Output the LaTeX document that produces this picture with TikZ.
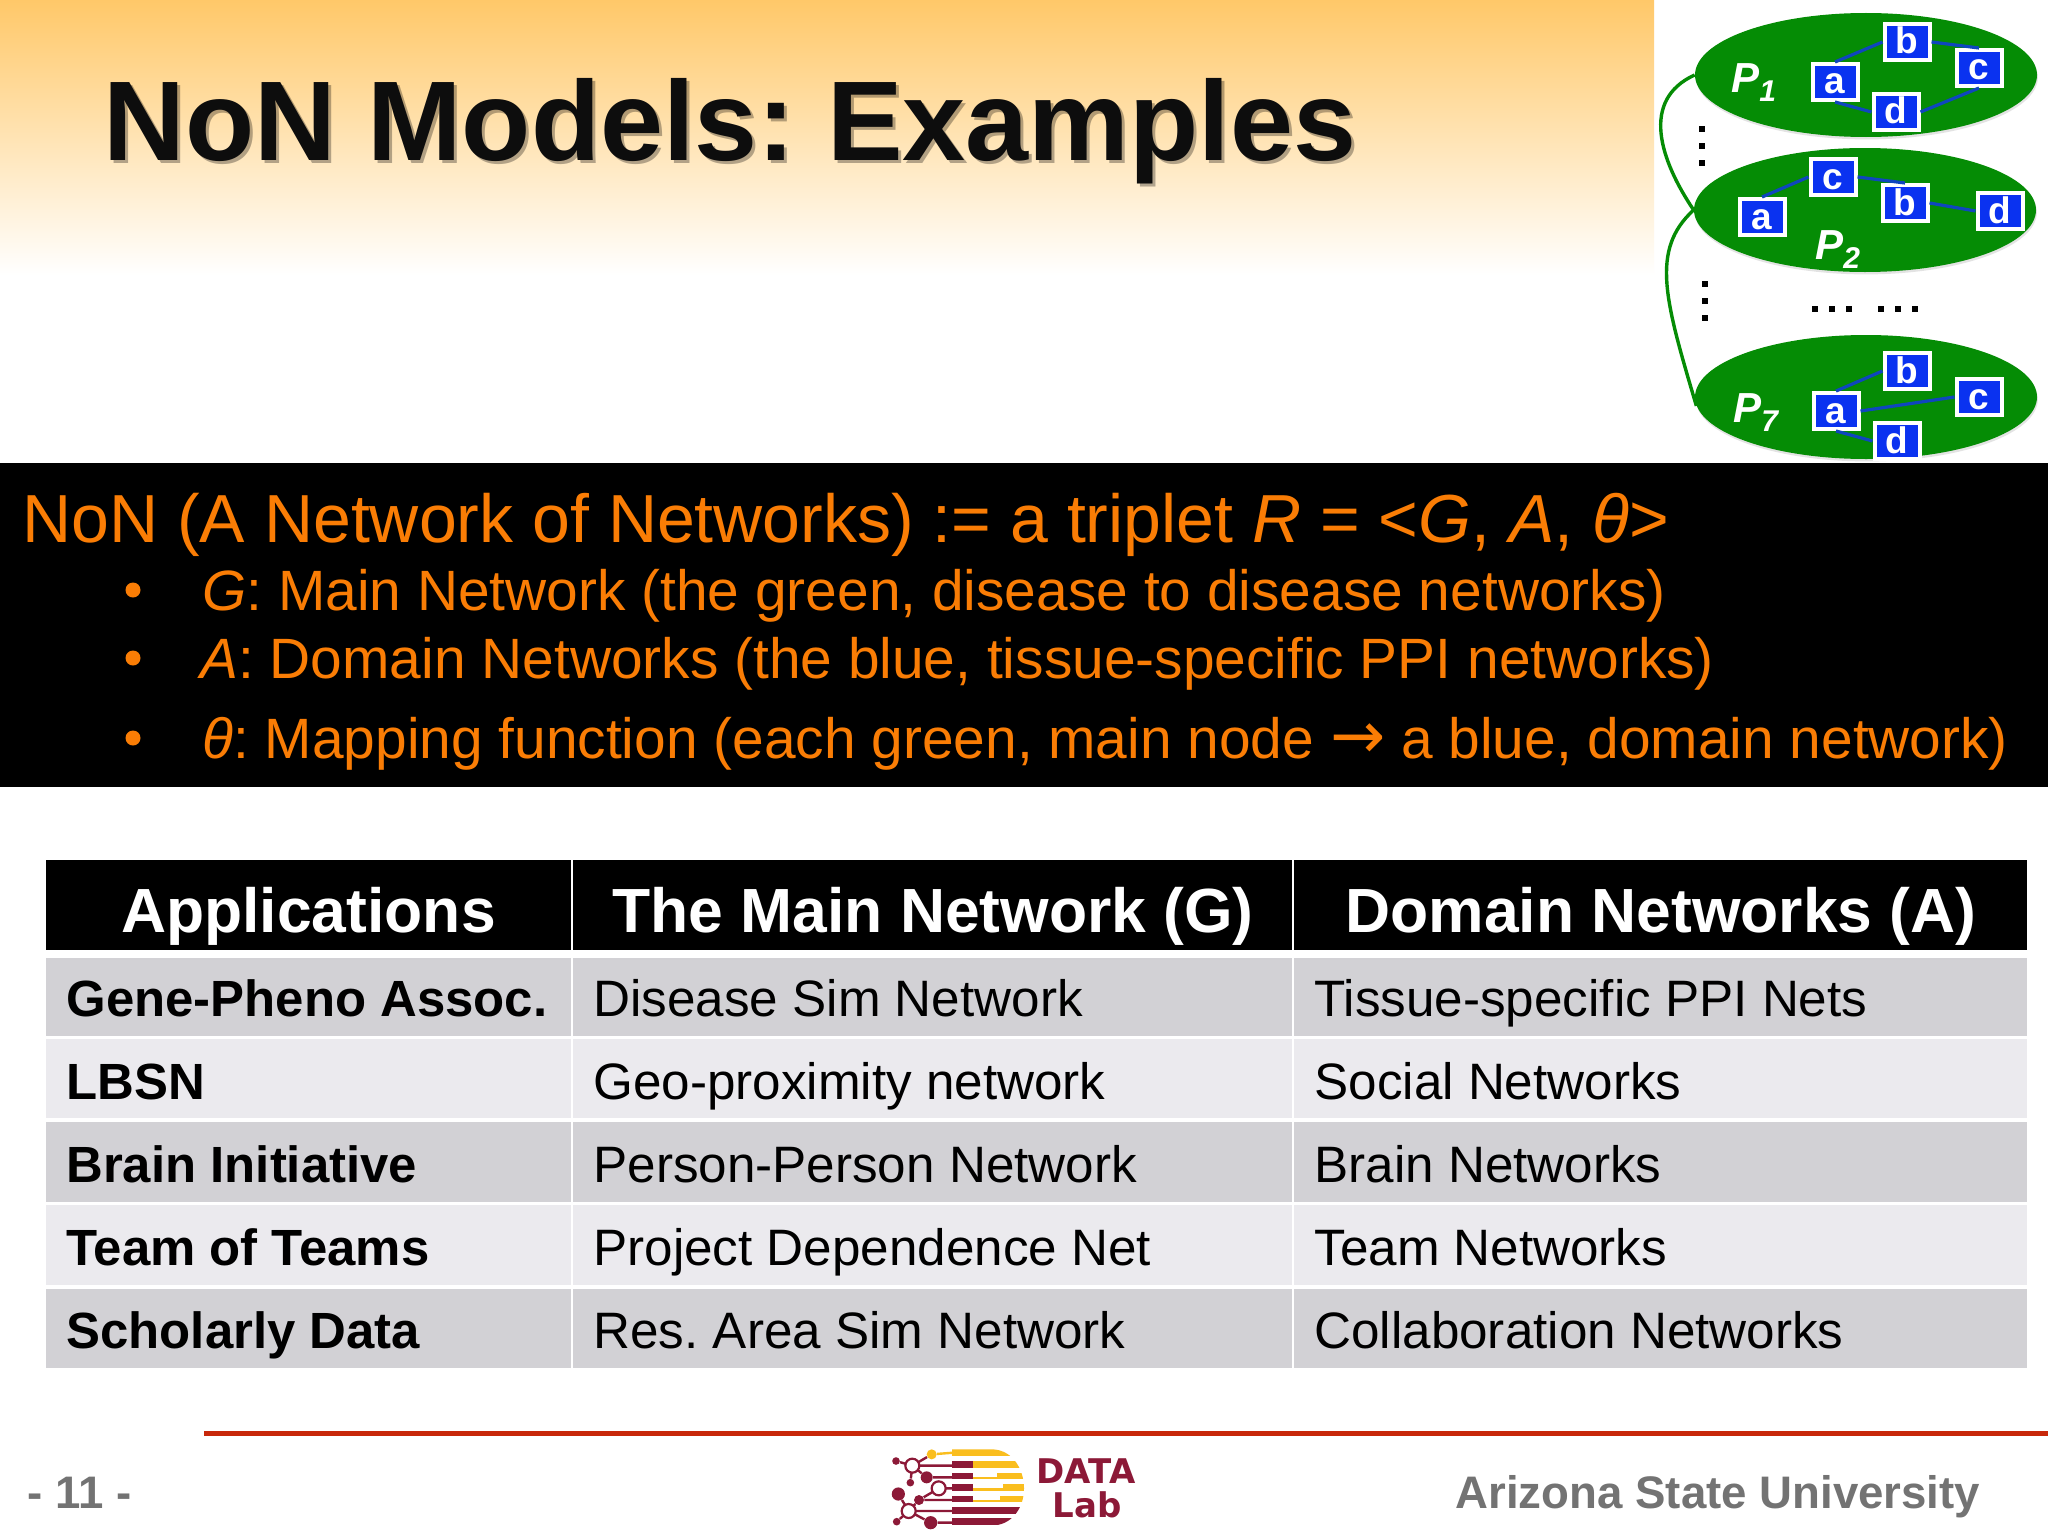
\documentclass[tikz,border=0pt]{standalone}
\usepackage{fontspec}
\setmainfont{Liberation Sans}
\newfontfamily\arrowfont{DejaVu Sans}
\usetikzlibrary{shapes.geometric,calc,shadows}
\frenchspacing
\definecolor{bandorange}{RGB}{255,200,105}
\definecolor{txtorange}{RGB}{250,125,5}
\definecolor{ellgreen}{RGB}{5,140,5}
\definecolor{boxblue}{RGB}{10,50,240}
\definecolor{linkblue}{RGB}{15,70,190}
\definecolor{rowdark}{RGB}{210,209,213}
\definecolor{rowlight}{RGB}{235,234,238}
\definecolor{footgray}{RGB}{115,115,115}
\definecolor{footred}{RGB}{200,40,10}
\definecolor{asumaroon}{RGB}{140,25,55}
\definecolor{asugold}{RGB}{250,190,30}
\tikzset{
  titletext/.style={anchor=base west,inner sep=0pt,font=\fontsize{56.65}{60}\selectfont\bfseries},
  bandhead/.style={anchor=base west,inner sep=0pt,text=txtorange,font=\fontsize{34}{40}\selectfont},
  bandline/.style={anchor=base west,inner sep=0pt,text=txtorange,font=\fontsize{28.43}{34}\selectfont},
  banddot/.style={circle,fill=txtorange,inner sep=0pt,minimum size=7.5pt},
  headtext/.style={anchor=base,inner sep=0pt,text=white,font=\fontsize{31.2}{36}\selectfont\bfseries},
  keytext/.style={anchor=base west,inner sep=0pt,font=\fontsize{25.45}{30}\selectfont\bfseries},
  celltext/.style={anchor=base west,inner sep=0pt,font=\fontsize{25.6}{30}\selectfont},
  ell/.style={ellipse,fill=ellgreen,inner sep=0pt,minimum width=171pt,minimum height=62pt,
    drop shadow={opacity=.22,shadow xshift=.4pt,shadow yshift=-1.2pt}},
  nbox/.style={draw=white,line width=2pt,fill=boxblue,text=white,minimum width=22.5pt,minimum height=18pt,inner sep=0pt,text height=12pt,text depth=0pt,font=\fontsize{18.5}{20}\selectfont\bfseries},
  plabel/.style={text=white,inner sep=0pt,anchor=base west,font=\fontsize{21}{24}\selectfont\bfseries\itshape},
  link/.style={draw=linkblue,line width=1.6pt},
  tie/.style={draw=ellgreen,line width=1.7pt},
  dotsq/.style={fill=black,minimum size=2.6pt,inner sep=0pt},
  foot/.style={anchor=base west,inner sep=0pt,text=footgray,font=\fontsize{22.8}{26}\selectfont\bfseries},
  mtrace/.style={draw=asumaroon,line width=1.2pt},
  gtrace/.style={draw=asugold,line width=1.2pt},
  mdot/.style={circle,fill=asumaroon,inner sep=0pt},
  mring/.style={circle,draw=asumaroon,fill=white,line width=1.1pt,inner sep=0pt,minimum size=7pt},
  logotext/.style={anchor=base,inner sep=0pt,text=asumaroon,font=\arrowfont\fontsize{17}{20}\selectfont\bfseries},
}
\begin{document}
\begin{tikzpicture}[x=0.5pt,y=-0.5pt]
\useasboundingbox (0,0) rectangle (2048,1536);
\fill[white] (0,0) rectangle (2048,1536);
% top gradient
\shade[top color=bandorange,bottom color=white] (0,0) rectangle (1654,275);
% title
\node[titletext,text=black,opacity=.3] (titleshadow) at (106,163.5) {NoN Models: Examples};
\node[titletext,text=black!95] (title) at (103,160) {NoN Models: Examples};
% P ellipses
\node[ell] (P1) at (1866,75) {};
\node[ell] (P2) at (1865,210) {};
\node[ell] (P7) at (1866,397) {};
\node[plabel] (p1t) at (1731,93) {P\raisebox{-4.5pt}{\fontsize{15}{16}\selectfont 1}};
\node[plabel] (p2t) at (1815,259) {P\raisebox{-4.5pt}{\fontsize{15}{16}\selectfont 2}};
\node[plabel] (p7t) at (1733,422) {P\raisebox{-4.5pt}{\fontsize{15}{16}\selectfont 7}};
\foreach \n/\lab/\x/\y in {
  a1/a/1835/82,b1/b/1907/42,c1/c/1979/68,d1/d/1896/112,
  a2/a/1762/217,c2/c/1833/177,b2/b/1905/203,d2/d/2000/211,
  a7/a/1836/411,b7/b/1907/371,c7/c/1979/397,d7/d/1897/441}
  \node[nbox] (\n) at (\x,\y) {\lab};
\draw[link] (a1.north) -- (b1.west);
\draw[link] (b1.east) -- (c1.north);
\draw[link] (c1.south) -- (d1.east);
\draw[link] (a1.south) -- (d1.west);
\draw[link] (a2.north) -- (c2.west);
\draw[link] (c2.east) -- (b2.north);
\draw[link] (b2.east) -- (d2.west);
\draw[link] (a7.north) -- (b7.west);
\draw[link] (a7.east) -- (c7.west);
\draw[link] (a7.south) -- (d7.west);
% main-network ties
\draw[tie] (P1.west) .. controls (1640,100) and (1660,160) .. (P2.west);
\draw[tie] (P2.west) .. controls (1650,250) and (1665,300) .. (P7.183);
% dots
\foreach \i/\x/\y in {1/1702/129,2/1702/146,3/1702/163,4/1705/284,5/1705/301,6/1705/318,
  7/1815/309,8/1832/309,9/1849/309,10/1881/309,11/1898/309,12/1915/309}
  \node[dotsq] (dot\i) at (\x,\y) {};
% black band
\fill[black] (0,463) rectangle (2048,787);
\node[bandhead] (h0) at (22,542) {NoN (A Network of Networks) := a triplet \textit{R} = <\textit{G}, \textit{A}, \textit{θ}>};
\node[banddot] (b1d) at (133,590) {};
\node[banddot] (b2d) at (133,658) {};
\node[banddot] (b3d) at (133,738) {};
\node[bandline] (l1) at (202,610) {\textit{G}: Main Network (the green, disease to disease networks)};
\node[bandline] (l2) at (200,678) {\textit{A}: Domain Networks (the blue, tissue-specific PPI networks)};
\node[bandline] (l3) at (202,758) {\textit{θ}: Mapping function (each green, main node {\arrowfont\fontsize{33}{34}\selectfont →} a blue, domain network)};
% table
\foreach \x/\w/\c in {46/525/a,573/719/b,1294/733/c}{
  \fill[black] (\x,860) rectangle ++(\w,90);
  \fill[rowdark]  (\x,958) rectangle ++(\w,78);
  \fill[rowlight] (\x,1039) rectangle ++(\w,79);
  \fill[rowdark]  (\x,1122) rectangle ++(\w,80);
  \fill[rowlight] (\x,1205) rectangle ++(\w,80);
  \fill[rowdark]  (\x,1289) rectangle ++(\w,79);
}
\node[headtext] (hA) at (308.5,932) {Applications};
\node[headtext] (hB) at (933,932) {The Main Network (G)};
\node[headtext] (hC) at (1661,932) {Domain Networks (A)};
\foreach \n/\y/\ka/\kb/\kc in {
  1/1016/Gene-Pheno Assoc./Disease Sim Network/Tissue-specific PPI Nets,
  2/1099/LBSN/Geo-proximity network/Social Networks,
  3/1182/Brain Initiative/Person-Person Network/Brain Networks,
  4/1265/Team of Teams/Project Dependence Net/Team Networks,
  5/1348/Scholarly Data/Res. Area Sim Network/Collaboration Networks}{
  \node[keytext] (ka\n) at (66,\y) {\ka};
  \node[celltext] (kb\n) at (593,\y) {\kb};
  \node[celltext] (kc\n) at (1314,\y) {\kc};
}
% footer
\fill[footred] (204,1430.5) rectangle (2048,1435.5);
\node[foot] (pg) at (27,1508.5) {- 11 -};
\node[foot,anchor=base east] (asu) at (1980.5,1508.5) {Arizona State University};
% logo
\begin{scope}[shift={(860,1420)},x=0.16667pt,y=-0.16667pt]
  \begin{scope}
    \clip (275,88) -- (400,88) .. controls (460,92) and (492,150) .. (492,205)
      .. controls (492,260) and (460,310) .. (405,316) -- (275,316) -- cycle;
    \fill[asugold] (275,88) rectangle (500,108);
    \fill[asugold] (340,123) rectangle (500,143);
    \fill[asugold] (340,170) rectangle (420,178);
    \fill[asugold] (410,158) rectangle (500,178);
    \fill[asugold] (340,205) rectangle (440,212);
    \fill[asugold] (430,192) rectangle (500,212);
    \fill[asugold] (340,240) rectangle (430,247);
    \fill[asugold] (420,227) rectangle (500,247);
    \fill[asumaroon] (275,123) rectangle (340,143);
    \fill[asumaroon] (275,158) rectangle (340,178);
    \fill[asumaroon] (275,192) rectangle (340,212);
    \fill[asumaroon] (275,227) rectangle (340,247);
    \fill[asumaroon] (275,262) rectangle (500,282);
    \fill[asumaroon] (275,295) rectangle (500,316);
  \end{scope}
  \coordinate (t0) at (280,98);
  \coordinate (t1) at (280,137);
  \coordinate (t2) at (280,172);
  \coordinate (t3) at (280,205);
  \coordinate (t4) at (280,240);
  \coordinate (t5) at (280,273);
  \coordinate (t6) at (280,308);
  \node[circle,fill=asugold,inner sep=0pt,minimum size=5pt] (g0) at (215,103) {};
  \node[mdot,minimum size=3.8pt] (m1) at (108,123) {};
  \node[mdot,minimum size=3.8pt] (m2) at (151,188) {};
  \node[mdot,minimum size=6pt] (m3) at (200,172) {};
  \node[mdot,minimum size=6.6pt] (m4) at (115,222) {};
  \node[mdot,minimum size=5pt] (m5) at (177,240) {};
  \node[mdot,minimum size=3.8pt] (m6) at (110,305) {};
  \node[mdot,minimum size=6.6pt] (m7) at (212,308) {};
  \draw[gtrace] (g0) -- (t0);
  \draw[mtrace] (m1) -- (157,137) (m2) -- (157,137) (m3) -- (157,137) (g0) -- (157,137) (157,137) -- (t1);
  \draw[mtrace] (m3) -- (t2) (m5) -- (236,205) (236,205) -- (t3) (m5) -- (t4);
  \draw[mtrace] (m4) -- (146,273) (m5) -- (146,273) (m6) -- (146,273) (m7) -- (146,273) (146,273) -- (t5) (m7) -- (t6);
  \node[mring] (r1) at (157,137) {};
  \node[mring] (r2) at (236,205) {};
  \node[mring] (r3) at (146,273) {};
\end{scope}
\node[logotext] (ld) at (1086,1483) {DATA};
\node[logotext] (ll) at (1087,1517) {Lab};
\end{tikzpicture}
\end{document}
